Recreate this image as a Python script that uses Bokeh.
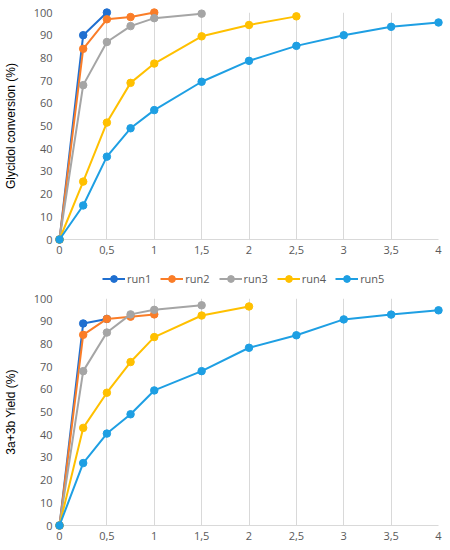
from bokeh.plotting import figure
from bokeh.layouts import column
from bokeh.models import Legend, LegendItem, Range1d, FixedTicker, CustomJSTickFormatter
from bokeh.embed import file_html
from bokeh.resources import INLINE

run_names = ["run1", "run2", "run3", "run4", "run5"]
run_colors = ["#1F6FD0", "#FA7D28", "#A5A5A5", "#FFC000", "#1E9FE3"]

x_ticks = [0, 0.5, 1, 1.5, 2, 2.5, 3, 3.5, 4]
y_ticks = [0, 10, 20, 30, 40, 50, 60, 70, 80, 90, 100]

# Top chart: glycidol conversion (%)
conv_t_run1 = [0, 0.25, 0.5]
conv_y_run1 = [0, 90, 100]
conv_t_run2 = [0, 0.25, 0.5, 0.75, 1]
conv_y_run2 = [0, 84, 97, 98, 100]
conv_t_run3 = [0, 0.25, 0.5, 0.75, 1, 1.5]
conv_y_run3 = [0, 68, 87, 94, 97.5, 99.5]
conv_t_run4 = [0, 0.25, 0.5, 0.75, 1, 1.5, 2, 2.5]
conv_y_run4 = [0, 25.5, 51.5, 69, 77.5, 89.5, 94.5, 98.3]
conv_t_run5 = [0, 0.25, 0.5, 0.75, 1, 1.5, 2, 2.5, 3, 3.5, 4]
conv_y_run5 = [0, 15, 36.5, 49, 57, 69.5, 78.7, 85.3, 90, 93.7, 95.6]

# Bottom chart: 3a+3b yield (%)
yld_t_run1 = [0, 0.25, 0.5]
yld_y_run1 = [0, 89, 91]
yld_t_run2 = [0, 0.25, 0.5, 0.75, 1]
yld_y_run2 = [0, 84, 91, 92, 93]
yld_t_run3 = [0, 0.25, 0.5, 0.75, 1, 1.5]
yld_y_run3 = [0, 68, 85, 93, 95, 97]
yld_t_run4 = [0, 0.25, 0.5, 0.75, 1, 1.5, 2]
yld_y_run4 = [0, 43, 58.5, 72, 83, 92.5, 96.5]
yld_t_run5 = [0, 0.25, 0.5, 0.75, 1, 1.5, 2, 2.5, 3, 3.5, 4]
yld_y_run5 = [0, 27.5, 40.5, 49, 59.5, 68, 78.3, 83.8, 90.8, 92.9, 94.8]

conv_series = [(conv_t_run1, conv_y_run1), (conv_t_run2, conv_y_run2), (conv_t_run3, conv_y_run3),
               (conv_t_run4, conv_y_run4), (conv_t_run5, conv_y_run5)]
yld_series = [(yld_t_run1, yld_y_run1), (yld_t_run2, yld_y_run2), (yld_t_run3, yld_y_run3),
              (yld_t_run4, yld_y_run4), (yld_t_run5, yld_y_run5)]

TICK_FONT = "Open Sans"
TICK_COLOR = "#595959"
GRID_COLOR = "#D9D9D9"


def make_fig(series, ylabel, width, height, b_top, b_bottom, b_right):
    p = figure(width=width, height=height, output_backend="svg", toolbar_location=None,
               x_range=Range1d(0, 4), y_range=Range1d(0, 100),
               min_border_left=59, min_border_right=b_right,
               min_border_top=b_top, min_border_bottom=b_bottom)
    p.outline_line_color = None
    p.background_fill_color = "white"
    p.border_fill_color = "white"

    p.xaxis.ticker = FixedTicker(ticks=x_ticks)
    p.xaxis.formatter = CustomJSTickFormatter(code="return tick.toString().replace('.', ',');")
    p.yaxis.ticker = FixedTicker(ticks=y_ticks)
    for ax in (p.xaxis[0], p.yaxis[0]):
        ax.major_tick_line_color = None
        ax.minor_tick_line_color = None
        ax.major_tick_out = 0
        ax.major_tick_in = 0
        ax.minor_tick_out = 0
        ax.minor_tick_in = 0
        ax.major_label_text_font = TICK_FONT
        ax.major_label_text_font_size = "11px"
        ax.major_label_text_color = TICK_COLOR
    p.xaxis.axis_line_color = GRID_COLOR
    p.xaxis.major_label_standoff = 6
    p.yaxis.axis_line_color = None
    p.yaxis.major_label_standoff = 7
    p.yaxis.axis_label = ylabel
    p.yaxis.axis_label_text_font = "Liberation Sans"
    p.yaxis.axis_label_text_font_size = "12px"
    p.yaxis.axis_label_text_font_style = "normal"
    p.yaxis.axis_label_text_color = "#000000"
    p.yaxis.axis_label_standoff = 13

    p.xgrid.ticker = FixedTicker(ticks=x_ticks)
    p.xgrid.grid_line_color = GRID_COLOR
    p.ygrid.grid_line_color = None

    for color, (t, y) in zip(run_colors, series):
        p.line(t, y, line_color=color, line_width=2, level="overlay")
        p.scatter(t, y, marker="circle", size=7.5, fill_color=color, line_color=color,
                  level="overlay")
    return p


p1 = make_fig(conv_series, "Glycidol conversion (%)", 450, 264, 12, 25, 9)
p2 = make_fig(yld_series, "3a+3b Yield (%)", 450, 262, 10, 25, 12)

# Legend strip between the two charts (legend glyphs only; series drawn above)
pl = figure(width=450, height=24, output_backend="svg", toolbar_location=None,
            x_range=Range1d(0, 1), y_range=Range1d(0, 1),
            x_axis_type=None, y_axis_type=None,
            min_border_left=0, min_border_right=0, min_border_top=0, min_border_bottom=0)
pl.outline_line_color = None
pl.grid.visible = False
items = []
for name, color, (t, y) in zip(run_names, run_colors, conv_series):
    lr = pl.line(t, y, line_color=color, line_width=2, visible=False)
    sr = pl.scatter(t, y, marker="circle", size=7.5, fill_color=color, line_color=color,
                    visible=False)
    items.append(LegendItem(label=name, renderers=[lr, sr]))

legend = Legend(items=items, orientation="horizontal", location=(43, 1),
                label_text_font=TICK_FONT, label_text_font_size="11px",
                label_text_color=TICK_COLOR, glyph_width=23, glyph_height=17,
                label_height=14, label_standoff=2, spacing=9, padding=2, margin=0,
                border_line_color=None, background_fill_alpha=0,
                inactive_fill_alpha=0)
pl.add_layout(legend, "center")

layout = column(p1, pl, p2, spacing=0)
open("out.html", "w").write(file_html(layout, INLINE))
